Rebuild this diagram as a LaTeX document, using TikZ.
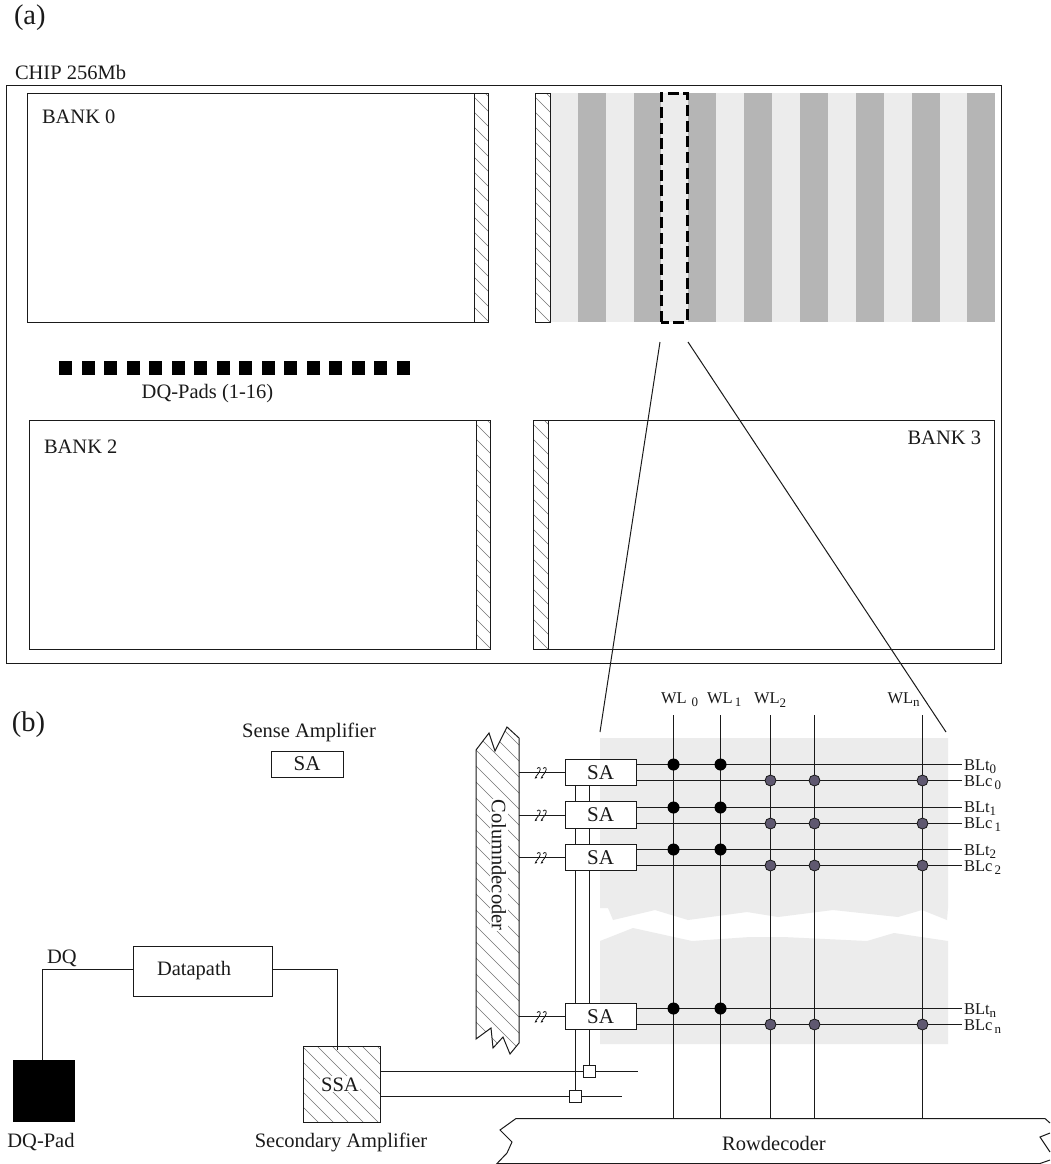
\documentclass[tikz,border=0pt]{standalone}
\usepackage{fontspec}
\setmainfont{Liberation Serif}
\definecolor{lightcell}{HTML}{ECECEC}
\definecolor{darkcell}{HTML}{B5B5B5}
\definecolor{cellpurple}{HTML}{5F5870}
\definecolor{ink}{HTML}{1A1A1A}
\newcommand{\fs}[1]{\fontsize{#1}{#1}\selectfont}
\newcommand{\hatchlines}[5]{%
  \pgfmathtruncatemacro\hN{((#3-#1)+(#4-#2))/#5+1}%
  \foreach \k in {0,...,\hN}{%
    \draw[hatchline] ({#1-(#4-#2)+\k*#5},#2) -- ++({#4-#2},{#4-#2});
  }%
}
\newcommand{\hatchbox}[5]{%
  \begin{scope}
    \clip (#1,#2) rectangle (#3,#4);
    \hatchlines{#1}{#2}{#3}{#4}{#5}
  \end{scope}
  \draw[wire] (#1,#2) rectangle (#3,#4);
}
\newcommand{\breakmark}[2]{%
  \draw[thinwire] (#1-1,#2-4) .. controls (#1+1,#2-6) and (#1+4,#2-5) .. (#1+1,#2) .. controls (#1-1,#2+3) and (#1-5,#2+7) .. (#1-1,#2+5);
  \draw[thinwire] (#1+5,#2-4) .. controls (#1+7,#2-6) and (#1+10,#2-5) .. (#1+7,#2) .. controls (#1+5,#2+3) and (#1+1,#2+7) .. (#1+5,#2+5);
}
\tikzset{
  x=1pt,y=-1pt,
  wire/.style={draw=ink,line width=1pt},
  thinwire/.style={draw=ink,line width=0.8pt},
  hatchline/.style={draw=black!55,line width=0.6pt},
  txt/.style={inner sep=0pt,outer sep=0pt,text=ink,font=\fs{20.5}},
  bigtxt/.style={txt,font=\fs{28.5}},
  smalltxt/.style={txt,font=\fs{16.5}},
  sabox/.style={draw=ink,line width=1pt,fill=white,inner sep=0pt,minimum width=71pt,minimum height=26.5pt,text=ink,font=\fs{21}},
  port/.style={draw=ink,line width=1pt,fill=white,inner sep=0pt,minimum size=12pt},
  blackdot/.style={circle,fill=black,draw=black,inner sep=0pt,minimum size=11.5pt},
  purpledot/.style={circle,fill=cellpurple,draw=ink,line width=0.8pt,inner sep=0pt,minimum size=11pt},
}
\begin{document}
\begin{tikzpicture}
\useasboundingbox (0,0) rectangle (1050,1164);
\fill[white] (0,0) rectangle (1050,1164);

% ---------- part (a)
\node[bigtxt,anchor=base west] (labela) at (14,25) {(a)};
\node[txt,anchor=base west] (chiplabel) at (15,79) {CHIP 256Mb};
\draw[wire] (6.5,85.5) rectangle (1001.5,663.5);

% bank 0
\draw[wire] (27.5,93.5) rectangle (474.5,322.5);
\hatchbox{474.5}{93.5}{488.5}{322.5}{15}
\node[txt,anchor=base west] (bank0) at (42,123) {BANK 0};

% bank 1 with stripes
\fill[lightcell] (550,93) rectangle (995,322);
\foreach \sx/\ex in {578/606,634/661,688/716,744/772,800/828,856/884,912/940,967/995}{
  \fill[darkcell] (\sx,93) rectangle (\ex,322);
}
\hatchbox{535.5}{93.5}{550.5}{322.5}{15}
\draw[black,line width=3pt,dash pattern=on 11pt off 4.7pt] (661,322) -- (661,93) -- (687,93) -- (687,322) -- cycle;

% pads
\foreach \i in {0,...,15}{
  \fill[black] ({59+\i*22.5},361) rectangle ++(13,14);
}
\node[txt,anchor=base] (padslabel) at (207.5,398) {DQ-Pads (1-16)};

% bank 2
\draw[wire] (29.5,420.5) rectangle (476.5,649.5);
\hatchbox{476.5}{420.5}{490.5}{649.5}{15}
\node[txt,anchor=base west] (bank2) at (44,453) {BANK 2};

% bank 3
\draw[wire] (548.5,420.5) rectangle (994.5,649.5);
\hatchbox{533.5}{420.5}{548.5}{649.5}{15}
\node[txt,anchor=base east] (bank3) at (981,444) {BANK 3};

% zoom lines
\coordinate (zoomLa) at (660,342);
\coordinate (zoomLb) at (600,732);
\coordinate (zoomRa) at (688,342);
\coordinate (zoomRb) at (946,732);
\draw[wire] (zoomLa) -- (zoomLb);
\draw[wire] (zoomRa) -- (zoomRb);

% ---------- part (b)
\node[bigtxt,anchor=base west] (labelb) at (12,731) {(b)};
\node[txt,anchor=base] (salegend) at (309,737) {Sense Amplifier};
\node[sabox,minimum width=72pt,minimum height=26pt] (sakey) at (307,764) {SA};

% cell array background
\fill[lightcell] (600,738) -- (948,738) -- (948,908) -- (947,920) -- (922,910) -- (898,917) -- (833,910) -- (778,917) -- (747,912) -- (688,920) -- (655,910) -- (613,920) -- (608,908) -- (600,908) -- cycle;
\fill[lightcell] (600,941) -- (633,928) -- (692,941) -- (750,937) -- (783,937) -- (867,941) -- (894,933) -- (948,941) -- (948,1044) -- (600,1044) -- cycle;

% column decoder
\begin{scope}
  \clip (476,750) -- (489,733) -- (495,751) -- (507,727) -- (519,738) -- (519,1043) -- (510,1054) -- (503,1037) -- (493,1048) -- (491,1028) -- (476,1039) -- cycle;
  \hatchlines{476}{727}{519}{1054}{16}
\end{scope}
\draw[wire] (476,750) -- (489,733) -- (495,751) -- (507,727) -- (519,738) -- (519,1043) -- (510,1054) -- (503,1037) -- (493,1048) -- (491,1028) -- (476,1039) -- cycle;
\node[txt,fill=white,inner xsep=1pt,inner ysep=2pt,rotate=-90] (coldec) at (499,865) {Columndecoder};
\coordinate (cdE) at (519,865);

% global vertical data lines
\coordinate (vA) at (575.5,772);
\coordinate (vB) at (589.5,772);

% row decoder
\draw[wire] (1050,1123) -- (1045,1118.5) -- (516,1118.5) -- (500,1130) -- (512,1142) -- (507,1153) -- (497,1163.5) -- (1040,1163.5) -- (1050,1160);
\draw[wire] (1050,1133) -- (1040,1137) -- (1050,1152);
\node[txt,anchor=base] (rowdec) at (774,1150) {Rowdecoder};
\coordinate (rowtop) at (774,1118);

% secondary amplifier
\hatchbox{303.5}{1046.5}{380.5}{1122.5}{15}
\node[txt,anchor=base,fill=white,inner sep=1pt] (ssa) at (340,1091) {SSA};
\coordinate (ssaNE) at (380,1046);

% ports
\node[port] (portA) at (589.5,1071.5) {};
\node[port] (portB) at (575.5,1096.5) {};
\coordinate (busAend) at (638,1071.5);
\coordinate (busBend) at (622,1096.5);
\draw[wire] (ssaNE |- portA) -- (portA) -- (busAend);
\draw[wire] (ssaNE |- portB) -- (portB) -- (busBend);

% word lines
\foreach \n/\wx in {wa/673.5,wb/720.5,wc/770.5,wd/814.5,we/922.5}{
  \coordinate (\n) at (\wx,715);
  \draw[wire] (\n) -- (\n |- rowtop);
}

% sense amplifiers, bit lines
\foreach \n/\ya/\yb/\yc in {1/772.5/764.5/780.5,2/815/807.5/823.5,3/857.5/849.5/865.5,4/1016.5/1008.5/1024.5}{
  \coordinate (blt\n) at (962,\yb);
  \coordinate (blc\n) at (962,\yc);
  \node[sabox] (sa\n) at (600.5,\ya) {SA};
  \draw[wire] (sa\n.east |- blt\n) -- (blt\n);
  \draw[wire] (sa\n.east |- blc\n) -- (blc\n);
  \draw[wire] (cdE |- sa\n.west) -- (sa\n.west);
  \breakmark{538}{\ya}
  \node[blackdot] (dta\n) at (wa |- blt\n) {};
  \node[blackdot] (dtb\n) at (wb |- blt\n) {};
  \node[purpledot] (dcc\n) at (wc |- blc\n) {};
  \node[purpledot] (dcd\n) at (wd |- blc\n) {};
  \node[purpledot] (dce\n) at (we |- blc\n) {};
}
% vertical lines between the sense amplifiers
\draw[wire] (vA |- sa1.south) -- (vA |- sa2.north);
\draw[wire] (vB |- sa1.south) -- (vB |- sa2.north);
\draw[wire] (vA |- sa2.south) -- (vA |- sa3.north);
\draw[wire] (vB |- sa2.south) -- (vB |- sa3.north);
\draw[wire] (vA |- sa3.south) -- (vA |- sa4.north);
\draw[wire] (vB |- sa3.south) -- (vB |- sa4.north);
\draw[wire] (vA |- sa4.south) -- (portB);
\draw[wire] (vB |- sa4.south) -- (portA);

% word line labels
\node[smalltxt,anchor=base west] (wl0) at (661,703) {WL\,{\fs{13}\raisebox{-3pt}{\,0}}};
\node[smalltxt,anchor=base west] (wl1) at (707,703) {WL{\fs{13}\raisebox{-3pt}{\,1}}};
\node[smalltxt,anchor=base west] (wl2) at (754,703) {WL{\fs{13}\raisebox{-4pt}{2}}};
\node[smalltxt,anchor=base west] (wln) at (887.5,703) {WL{\fs{13}\raisebox{-3pt}{n}}};

% bit line labels
\foreach \n/\sub/\ty/\cy in {t0/0/770/786,t1/1/812/828,t2/2/855/871,tn/n/1014/1030}{
  \node[smalltxt,anchor=base west] (bl\n) at (964,\ty) {BLt{\fs{13}\raisebox{-3pt}{\sub}}};
  \node[smalltxt,anchor=base west] (bc\n) at (964,\cy) {BLc{\fs{13}\raisebox{-3pt}{\,\sub}}};
}

% datapath part
\node[draw=ink,line width=1pt,fill=white,inner sep=0pt,minimum width=139pt,minimum height=50pt] (datapath) at (202.5,971) {};
\node[txt,anchor=base] (datapathtxt) at (194,975) {Datapath};
\node[fill=black,inner sep=0pt,minimum width=62pt,minimum height=62pt] (dqpad) at (44,1091) {};
\node[txt,anchor=base] (dqlabel) at (62,963) {DQ};
\node[txt,anchor=base] (dqpadlabel) at (41,1147) {DQ-Pad};
\node[txt,anchor=base] (secamp) at (341,1147) {Secondary Amplifier};
\coordinate (dqcorner) at (42.5,969.5);
\coordinate (ssatop) at (337.5,1050);
\draw[wire] (datapath.west |- dqcorner) -- (dqcorner) -- (dqcorner |- dqpad.north);
\draw[wire] (datapath.east |- dqcorner) -- (ssatop |- dqcorner) -- (ssatop);
\end{tikzpicture}
\end{document}
